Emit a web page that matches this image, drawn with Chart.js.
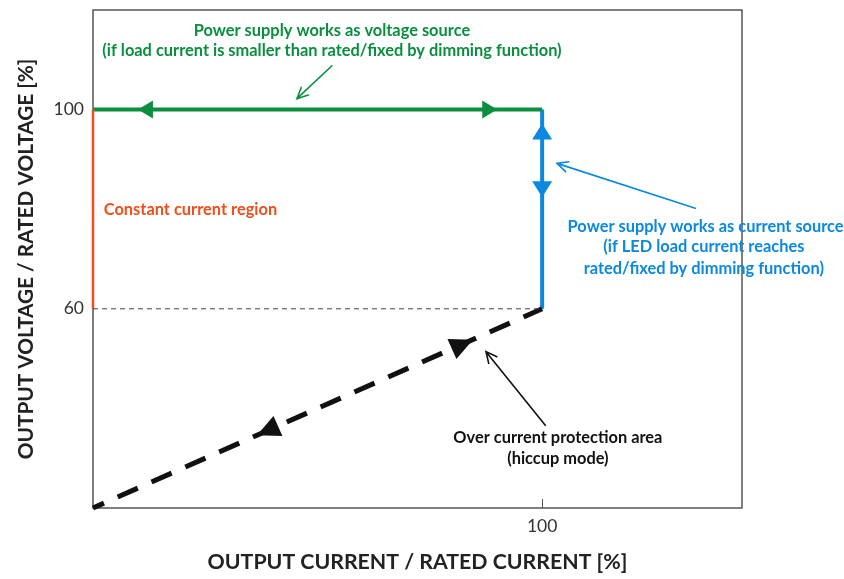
<!DOCTYPE html>
<html>
<head>
<meta charset="utf-8">
<script src="https://cdn.jsdelivr.net/npm/chart.js@4.4.1/dist/chart.umd.min.js"></script>
<style>
  html, body { margin: 0; padding: 0; background: #fff; }
  #wrap { width: 844px; height: 579px; }
</style>
</head>
<body>
<div id="wrap"><canvas id="chart"></canvas></div>
<script>
// Operating curve in % of rated values
const voltageSourceX = [0, 100];
const voltageSourceY = [100, 100];
const currentSourceX = [100, 100];
const currentSourceY = [60, 100];
const constCurrentX = [0, 0];
const constCurrentY = [60, 100];
const hiccupX = [0, 100];
const hiccupY = [20, 60];
const refLineX = [0, 100];
const refLineY = [60, 60];

const xTicks = [100];
const yTicks = [60, 100];

const GREEN = "#0a8f3f";
const BLUE = "#0b88e0";
const ORANGE = "#f04e1c";
const BLACK = "#111111";

function pts(xs, ys) {
  return xs.map((x, i) => ({ x: x, y: ys[i] }));
}

// filled arrowheads on the curve (data coords, direction)
const curveArrows = [
  { x: 10, y: 100, dx: -1, dy: 0, color: GREEN, len: 15, w: 18 },
  { x: 90, y: 100, dx: 1, dy: 0, color: GREEN, len: 15, w: 18 },
  { x: 100, y: 97.2, dx: 0, dy: 1, color: BLUE, len: 16, w: 20 },
  { x: 100, y: 82.4, dx: 0, dy: -1, color: BLUE, len: 16, w: 20 },
  { x: 84.6, y: 53.8, dx: 100, dy: 40, color: BLACK, len: 23, w: 22 },
  { x: 36.5, y: 34.6, dx: -100, dy: -40, color: BLACK, len: 23, w: 22 }
];

// thin pointer arrows from labels
const pointers = [
  { from: [53.2, 108.8], to: [45.4, 102.2], color: GREEN },
  { from: [134.1, 80.2], to: [103.3, 89.2], color: BLUE },
  { from: [100.7, 36.6], to: [87.5, 51.4], color: BLACK }
];

const labels = [
  { x: 53.2, y: 115.8, text: "Power supply works as voltage source", color: GREEN, align: "center" },
  { x: 53.2, y: 111.8, text: "(if load current is smaller than rated/fixed by dimming function)", color: GREEN, align: "center" },
  { x: 2.4, y: 79.8, text: "Constant current region", color: ORANGE, align: "left" },
  { x: 136.4, y: 76.4, text: "Power supply works as current source", color: BLUE, align: "center" },
  { x: 136.0, y: 72.4, text: "(if LED load current reaches", color: BLUE, align: "center" },
  { x: 136.0, y: 68.0, text: "rated/fixed by dimming function)", color: BLUE, align: "center" },
  { x: 103.5, y: 34.2, text: "Over current protection area", color: BLACK, align: "center" },
  { x: 103.5, y: 29.8, text: "(hiccup mode)", color: BLACK, align: "center" }
];

const LABEL_FONT = "bold 16.4px Lato";

const decorPlugin = {
  id: "decor",
  beforeDatasetsDraw(chart) {
    const ctx = chart.ctx;
    const xs = chart.scales.x;
    const area = chart.chartArea;

    // plot frame (under the curves)
    ctx.save();
    ctx.strokeStyle = "#555";
    ctx.lineWidth = 1.5;
    ctx.strokeRect(area.left, area.top, area.right - area.left, area.bottom - area.top);

    // inner tick marks
    ctx.lineWidth = 1;
    xTicks.forEach(v => {
      const px = Math.round(xs.getPixelForValue(v)) + 0.5;
      ctx.beginPath();
      ctx.moveTo(px, area.bottom);
      ctx.lineTo(px, area.bottom - 9);
      ctx.stroke();
    });
    ctx.restore();
  },
  afterDraw(chart) {
    const ctx = chart.ctx;
    const xs = chart.scales.x, ys = chart.scales.y;

    // curve arrowheads
    curveArrows.forEach(a => {
      const tx = xs.getPixelForValue(a.x), ty = ys.getPixelForValue(a.y);
      const ax = xs.getPixelForValue(a.x + a.dx) - tx;
      const ay = ys.getPixelForValue(a.y + a.dy) - ty;
      const n = Math.hypot(ax, ay);
      const ux = ax / n, uy = ay / n;
      const bx = tx - ux * a.len, by = ty - uy * a.len;
      ctx.save();
      ctx.fillStyle = a.color;
      ctx.beginPath();
      ctx.moveTo(tx, ty);
      ctx.lineTo(bx - uy * a.w / 2, by + ux * a.w / 2);
      ctx.lineTo(bx + uy * a.w / 2, by - ux * a.w / 2);
      ctx.closePath();
      ctx.fill();
      ctx.restore();
    });

    // pointer arrows
    pointers.forEach(p => {
      const x1 = xs.getPixelForValue(p.from[0]), y1 = ys.getPixelForValue(p.from[1]);
      const x2 = xs.getPixelForValue(p.to[0]), y2 = ys.getPixelForValue(p.to[1]);
      const ang = Math.atan2(y2 - y1, x2 - x1);
      const h = 12;
      ctx.save();
      ctx.strokeStyle = p.color;
      ctx.lineWidth = 1.6;
      ctx.lineCap = "round";
      ctx.beginPath();
      ctx.moveTo(x1, y1);
      ctx.lineTo(x2, y2);
      ctx.moveTo(x2 - h * Math.cos(ang - 0.45), y2 - h * Math.sin(ang - 0.45));
      ctx.lineTo(x2, y2);
      ctx.lineTo(x2 - h * Math.cos(ang + 0.45), y2 - h * Math.sin(ang + 0.45));
      ctx.stroke();
      ctx.restore();
    });

    // text labels
    ctx.save();
    ctx.font = LABEL_FONT;
    ctx.textBaseline = "middle";
    labels.forEach(l => {
      ctx.fillStyle = l.color;
      ctx.textAlign = l.align;
      ctx.fillText(l.text, xs.getPixelForValue(l.x), ys.getPixelForValue(l.y));
    });
    ctx.restore();
  }
};

const ctx = document.getElementById("chart").getContext("2d");
new Chart(ctx, {
  type: "scatter",
  data: {
    datasets: [
      {
        label: "Reference 60%",
        data: pts(refLineX, refLineY),
        showLine: true,
        borderColor: "#444",
        borderWidth: 1,
        borderDash: [5, 4],
        pointRadius: 0
      },
      {
        label: "Hiccup",
        data: pts(hiccupX, hiccupY),
        showLine: true,
        borderColor: BLACK,
        borderWidth: 5,
        borderDash: [22, 15],
        borderDashOffset: 10,
        pointRadius: 0
      },
      {
        label: "Constant current",
        data: pts(constCurrentX, constCurrentY),
        showLine: true,
        borderColor: ORANGE,
        borderWidth: 2.5,
        pointRadius: 0
      },
      {
        label: "Voltage source",
        data: pts(voltageSourceX, voltageSourceY),
        showLine: true,
        borderColor: GREEN,
        borderWidth: 4,
        pointRadius: 0
      },
      {
        label: "Current source",
        data: pts(currentSourceX, currentSourceY),
        showLine: true,
        borderColor: BLUE,
        borderWidth: 4,
        pointRadius: 0
      }
    ]
  },
  options: {
    responsive: true,
    maintainAspectRatio: false,
    animation: false,
    clip: false,
    layout: { padding: { top: 10, right: 102, left: 0, bottom: 0 } },
    plugins: {
      legend: { display: false },
      tooltip: { enabled: false }
    },
    scales: {
      x: {
        type: "linear",
        min: 0,
        max: 144.5,
        afterBuildTicks: s => { s.ticks = xTicks.map(v => ({ value: v })); },
        afterFit: s => { s.height = 71; s.paddingLeft = 0; s.paddingRight = 0; },
        grid: { display: false, drawTicks: false },
        border: { display: false },
        ticks: { color: "#333", font: { family: "Lato", size: 17.5 }, padding: 8 },
        title: {
          display: true,
          text: "OUTPUT CURRENT / RATED CURRENT [%]",
          color: "#222",
          font: { family: "Lato", size: 21.3, weight: "bold" },
          padding: { top: 10 }
        }
      },
      y: {
        type: "linear",
        min: 20,
        max: 120,
        afterBuildTicks: s => { s.ticks = yTicks.map(v => ({ value: v })); },
        afterFit: s => { s.width = 93; s.paddingTop = 0; s.paddingBottom = 0; },
        grid: { display: false, drawTicks: false },
        border: { display: false },
        ticks: { color: "#333", font: { family: "Lato", size: 17.5 }, padding: 9 },
        title: {
          display: true,
          text: "OUTPUT VOLTAGE / RATED VOLTAGE [%]",
          color: "#222",
          font: { family: "Lato", size: 20.8, weight: "bold" },
          padding: { bottom: 0, top: 14 }
        }
      }
    }
  },
  plugins: [decorPlugin]
});
</script>
</body>
</html>
